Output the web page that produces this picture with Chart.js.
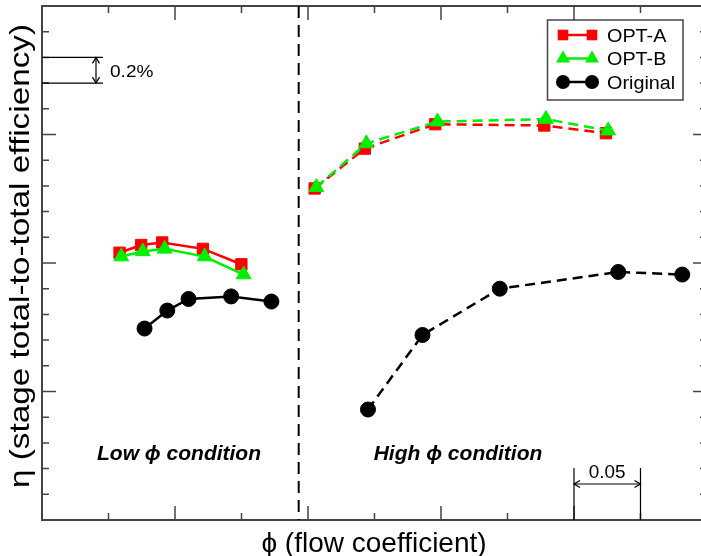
<!DOCTYPE html>
<html>
<head>
<meta charset="utf-8">
<script src="https://cdn.jsdelivr.net/npm/chart.js@4.4.0/dist/chart.umd.min.js"></script>
<style>
html, body { margin: 0; padding: 0; overflow: hidden; background: #fff; }
canvas { display: block; }
</style>
</head>
<body>
<canvas id="myChart" width="701" height="556"></canvas>
<script>
// low phi condition (solid lines)
const lowPhiA = [0.0583, 0.0746, 0.0904, 0.1210, 0.1499];
const lowEtaA = [88.08, 88.14, 88.16, 88.11, 87.99];
const lowPhiB = [0.0596, 0.0758, 0.0922, 0.1223, 0.1516];
const lowEtaB = [88.05, 88.09, 88.11, 88.05, 87.91];
const lowPhiO = [0.0771, 0.0942, 0.1102, 0.1422, 0.1725];
const lowEtaO = [87.49, 87.63, 87.72, 87.74, 87.70];

// high phi condition (dashed lines)
const highPhiA = [0.2050, 0.2427, 0.2957, 0.3777, 0.4240];
const highEtaA = [88.58, 88.89, 89.08, 89.07, 89.01];
const highPhiB = [0.2063, 0.2439, 0.2974, 0.3789, 0.4257];
const highEtaB = [88.59, 88.93, 89.10, 89.12, 89.03];
const highPhiO = [0.2451, 0.2861, 0.3442, 0.4333, 0.4814];
const highEtaO = [86.86, 87.44, 87.80, 87.93, 87.91];

const seriesNames = ['OPT-A', 'OPT-B', 'Original'];
const dividerPhi = 0.193;
const phiScaleBar = [0.40, 0.45];
const etaScaleBar = [89.4, 89.6];

const colors = ['#ff0000', '#00ee00', '#000000'];
const styles = ['rect', 'triangle', 'circle'];
const radii = [8, 8.5, 7.5];

function pts(xs, ys) {
    return xs.map((x, i) => ({x: x, y: ys[i]}));
}

function makeSet(label, k, xs, ys, dashed) {
    return {
        label: label,
        data: pts(xs, ys),
        showLine: true,
        borderColor: colors[k],
        backgroundColor: colors[k],
        borderWidth: 2.5,
        borderDash: dashed ? [10, 6] : [],
        pointStyle: styles[k],
        pointRadius: radii[k],
        pointBackgroundColor: colors[k],
        pointBorderColor: colors[k],
        pointBorderWidth: 1,
        tension: 0,
        order: [2, 1, 3][k]
    };
}

function text(ctx, str, x, y, font, sx, align) {
    ctx.save();
    ctx.translate(x, y);
    ctx.scale(sx, 1);
    ctx.font = font;
    ctx.textAlign = align;
    ctx.textBaseline = 'alphabetic';
    ctx.fillStyle = '#000';
    ctx.fillText(str, 0, 0);
    ctx.restore();
}

function arrowHead(ctx, x, y, dx, dy) {
    // open chevron pointing in direction (dx, dy)
    const l = 6, w = 3.5;
    ctx.beginPath();
    ctx.moveTo(x - dx * l - dy * w, y - dy * l - dx * w);
    ctx.lineTo(x, y);
    ctx.lineTo(x - dx * l + dy * w, y - dy * l + dx * w);
    ctx.stroke();
}

const framePlugin = {
    id: 'frame',
    afterDraw(chart) {
        const ctx = chart.ctx;
        const a = chart.chartArea;
        const xs = chart.scales.x, ys = chart.scales.y;
        // the frame's right side sits at phi = 0.5, just past the canvas edge
        const right = xs.getPixelForValue(0.5);
        ctx.save();

        // frame
        ctx.strokeStyle = '#444';
        ctx.lineWidth = 2;
        ctx.strokeRect(a.left, a.top, right - a.left, a.bottom - a.top);

        // inward ticks
        ctx.lineWidth = 1.5;
        ctx.beginPath();
        for (let i = 0; i <= 10; i++) {
            const px = xs.getPixelForValue(i * 0.05);
            const len = i % 2 == 0 ? 14 : 7;
            ctx.moveTo(px, a.bottom); ctx.lineTo(px, a.bottom - len);
            ctx.moveTo(px, a.top); ctx.lineTo(px, a.top + len);
        }
        for (let i = 0; i <= 20; i++) {
            const py = ys.getPixelForValue(86 + i * 0.2);
            const len = i % 5 == 0 ? 14 : 7;
            ctx.moveTo(a.left, py); ctx.lineTo(a.left + len, py);
            ctx.moveTo(right, py); ctx.lineTo(right - len, py);
        }
        ctx.stroke();

        // divider between low and high phi
        const dx = xs.getPixelForValue(dividerPhi);
        ctx.strokeStyle = '#000';
        ctx.lineWidth = 2;
        ctx.setLineDash([12, 7]);
        ctx.beginPath();
        ctx.moveTo(dx, a.top);
        ctx.lineTo(dx, a.bottom);
        ctx.stroke();
        ctx.setLineDash([]);

        // 0.2% bar
        ctx.lineWidth = 1.2;
        const y1 = ys.getPixelForValue(etaScaleBar[1]);
        const y2 = ys.getPixelForValue(etaScaleBar[0]);
        ctx.beginPath();
        ctx.moveTo(a.left, y1); ctx.lineTo(a.left + 61, y1);
        ctx.moveTo(a.left, y2); ctx.lineTo(a.left + 61, y2);
        ctx.moveTo(96, y1); ctx.lineTo(96, y2);
        ctx.stroke();
        arrowHead(ctx, 96, y1, 0, -1);
        arrowHead(ctx, 96, y2, 0, 1);
        text(ctx, '0.2%', 110, (y1 + y2) / 2 + 6.5, '17px "Liberation Sans", Arial, sans-serif', 1.12, 'left');

        // 0.05 bar
        const x1 = xs.getPixelForValue(phiScaleBar[0]);
        const x2 = xs.getPixelForValue(phiScaleBar[1]);
        ctx.beginPath();
        ctx.moveTo(x1, 468); ctx.lineTo(x1, a.bottom);
        ctx.moveTo(x2, 468); ctx.lineTo(x2, a.bottom);
        ctx.moveTo(x1, 484); ctx.lineTo(x2, 484);
        ctx.stroke();
        arrowHead(ctx, x1, 484, -1, 0);
        arrowHead(ctx, x2, 484, 1, 0);
        text(ctx, '0.05', (x1 + x2) / 2, 478, '18px "Liberation Sans", Arial, sans-serif', 1.05, 'center');

        // condition labels
        text(ctx, 'Low \u03d5 condition', 179, 460, 'italic bold 21px "Liberation Sans", Arial, sans-serif', 1, 'center');
        text(ctx, 'High \u03d5 condition', 458, 460, 'italic bold 21px "Liberation Sans", Arial, sans-serif', 1, 'center');

        // axis titles
        text(ctx, '\u03d5 (flow coefficient)', 374, 552, '28px "Liberation Sans", Arial, sans-serif', 1, 'center');
        ctx.save();
        ctx.translate(29, 256);
        ctx.rotate(-Math.PI / 2);
        ctx.scale(1.19, 1);
        ctx.font = '28px "Liberation Sans", Arial, sans-serif';
        ctx.textAlign = 'center';
        ctx.fillStyle = '#000';
        ctx.fillText('\u03b7 (stage total-to-total efficiency)', 0, 0);
        ctx.restore();

        // legend
        ctx.fillStyle = '#fff';
        ctx.fillRect(547.5, 20, 135.5, 80);
        ctx.strokeStyle = '#444';
        ctx.lineWidth = 1.5;
        ctx.strokeRect(547.5, 20, 135.5, 80);
        seriesNames.forEach((name, k) => {
            const ry = 35 + k * 23.5;
            ctx.strokeStyle = colors[k];
            ctx.fillStyle = colors[k];
            ctx.lineWidth = 2.5;
            ctx.beginPath();
            ctx.moveTo(563, ry); ctx.lineTo(592, ry);
            ctx.stroke();
            [563, 592].forEach(mx => {
                Chart.helpers.drawPoint(ctx, {pointStyle: styles[k], radius: radii[k] - 0.5, rotation: 0, borderWidth: 0}, mx, ry);
            });
            text(ctx, name, 607, ry + 6.5, '18px "Liberation Sans", Arial, sans-serif', 1.1, 'left');
        });

        ctx.restore();
    }
};

new Chart(document.getElementById('myChart'), {
    type: 'scatter',
    data: {
        datasets: [
            makeSet('OPT-A', 0, lowPhiA, lowEtaA, false),
            makeSet('OPT-B', 1, lowPhiB, lowEtaB, false),
            makeSet('Original', 2, lowPhiO, lowEtaO, false),
            makeSet('OPT-A high', 0, highPhiA, highEtaA, true),
            makeSet('OPT-B high', 1, highPhiB, highEtaB, true),
            makeSet('Original high', 2, highPhiO, highEtaO, true)
        ]
    },
    options: {
        responsive: false,
        animation: false,
        devicePixelRatio: 1,
        layout: {autoPadding: false, padding: {left: 42, top: 6, right: 0, bottom: 36}},
        scales: {
            x: {type: 'linear', min: 0, max: 0.4955, display: false},
            y: {type: 'linear', min: 86, max: 90, display: false}
        },
        plugins: {legend: {display: false}, tooltip: {enabled: false}}
    },
    plugins: [framePlugin]
});
</script>
</body>
</html>
